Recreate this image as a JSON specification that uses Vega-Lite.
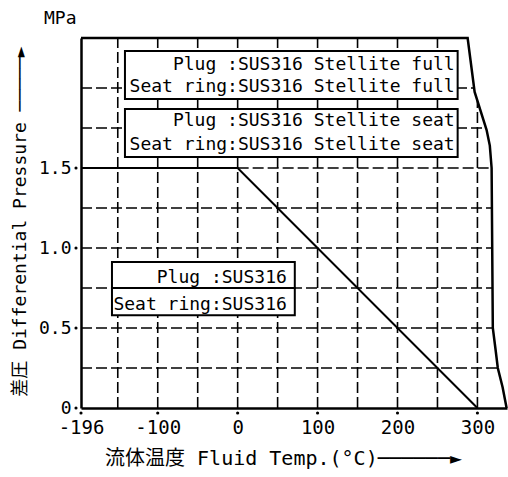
{
  "$schema": "https://vega.github.io/schema/vega-lite/v6.json",
  "width": 426,
  "height": 370,
  "autosize": {"type": "none"},
  "padding": {"left": 81, "top": 38, "right": 1, "bottom": 69},
  "background": "white",
  "config": {"view": {"stroke": null}, "font": "DejaVu Sans Mono"},
  "datasets": {
    "vgrid": [
      {"t": -150, "p": 0, "p1": 2.3125},
      {"t": -100, "p": 0, "p1": 2.3125},
      {"t": -50, "p": 0, "p1": 2.3125},
      {"t": 0, "p": 0, "p1": 2.3125},
      {"t": 50, "p": 0, "p1": 2.3125},
      {"t": 100, "p": 0, "p1": 2.3125},
      {"t": 150, "p": 0, "p1": 2.3125},
      {"t": 200, "p": 0, "p1": 2.3125},
      {"t": 250, "p": 0, "p1": 2.3125},
      {"t": 300, "p": 0, "p1": 1.92}
    ],
    "hgrid": [
      {"p": 0.25, "t": -196, "t1": 325.3},
      {"p": 0.5, "t": -196, "t1": 319.2},
      {"p": 0.75, "t": -196, "t1": 318.9},
      {"p": 1.0, "t": -196, "t1": 318.5},
      {"p": 1.25, "t": -196, "t1": 318.1},
      {"p": 1.5, "t": 0, "t1": 317.75},
      {"p": 1.75, "t": -196, "t1": 311.2},
      {"p": 2.0, "t": -196, "t1": 295.9}
    ],
    "rating": [
      {"t": -196, "p": 1.5},
      {"t": 0, "p": 1.5},
      {"t": 300, "p": 0}
    ],
    "frame": [
      {"i": 0, "t": -196, "p": 2.3125},
      {"i": 1, "t": 287.75, "p": 2.3125},
      {"i": 2, "t": 296.5, "p": 1.975},
      {"i": 3, "t": 311.5, "p": 1.7375},
      {"i": 4, "t": 315.5, "p": 1.64},
      {"i": 5, "t": 317.75, "p": 1.5},
      {"i": 6, "t": 318.5, "p": 1.0},
      {"i": 7, "t": 319.25, "p": 0.5},
      {"i": 8, "t": 322.75, "p": 0.3625},
      {"i": 9, "t": 325.5, "p": 0.25},
      {"i": 10, "t": 331.5, "p": 0.13},
      {"i": 11, "t": 336.5, "p": 0}
    ],
    "boxes": [
      {"t": -141, "t1": 275.25, "p": 1.931, "p1": 2.231},
      {"t": -141, "t1": 275.25, "p": 1.569, "p1": 1.869},
      {"t": -157.25, "t1": 71.5, "p": 0.75, "p1": 0.9125},
      {"t": -157.25, "t1": 71.5, "p": 0.58, "p1": 0.75}
    ],
    "notes": [
      {"t": 271.5, "p": 2.1125, "s": "Plug :SUS316 Stellite full"},
      {"t": 271.5, "p": 1.975, "s": "Seat ring:SUS316 Stellite full"},
      {"t": 271.5, "p": 1.7625, "s": "Plug :SUS316 Stellite seat"},
      {"t": 271.5, "p": 1.6125, "s": "Seat ring:SUS316 Stellite seat"},
      {"t": 61.5, "p": 0.78, "s": "Plug :SUS316"},
      {"t": 61.5, "p": 0.6125, "s": "Seat ring:SUS316"}
    ],
    "unit": [
      {"t": -196, "p": 2.3125, "s": "MPa"}
    ],
    "xdots": [
      {"t": -196, "p": 0}, {"t": -100, "p": 0}, {"t": 0, "p": 0},
      {"t": 100, "p": 0}, {"t": 200, "p": 0}, {"t": 300, "p": 0}
    ],
    "ydots": [
      {"t": -196, "p": 0}, {"t": -196, "p": 0.5}, {"t": -196, "p": 1.0}, {"t": -196, "p": 1.5}
    ]
  },
  "layer": [
    {
      "data": {"name": "vgrid"},
      "mark": {"type": "rule", "color": "black", "strokeWidth": 1.6, "strokeDash": [11, 4]},
      "encoding": {
        "x": {
          "field": "t", "type": "quantitative",
          "scale": {"domain": [-196, 337], "nice": false, "zero": false},
          "axis": {
            "values": [-196, -100, 0, 100, 200, 300],
            "labelExpr": "datum.value < 0 ? '-' + abs(datum.value) : '' + datum.value",
            "grid": false, "ticks": false,
            "domainWidth": 2.5, "domainColor": "black",
            "labelFont": "DejaVu Sans Mono", "labelFontSize": 19, "labelColor": "black",
            "labelPadding": 10, "labelFlush": false, "labelOverlap": false,
            "title": "流体温度 Fluid Temp.(°C)──────►",
            "titleFont": "DejaVu Sans Mono, Noto Sans CJK JP",
            "titleFontSize": 20, "titleFontWeight": "normal", "titleColor": "black",
            "titleX": 202, "titleY": 50, "titleAlign": "center", "titleBaseline": "middle"
          }
        },
        "y": {
          "field": "p", "type": "quantitative",
          "scale": {"domain": [0, 2.3125], "nice": false, "zero": false},
          "axis": {
            "values": [0, 0.5, 1, 1.5],
            "labelExpr": "datum.value == 0 ? '0' : format(datum.value, '.1f')",
            "grid": false, "ticks": false,
            "domainWidth": 2.5, "domainColor": "black",
            "labelFont": "DejaVu Sans Mono", "labelFontSize": 18, "labelColor": "black",
            "labelPadding": 10, "labelFlush": false, "labelOverlap": false,
            "title": "差圧 Differential Pressure ─────►",
            "titleFont": "DejaVu Sans Mono, Noto Sans CJK JP",
            "titleFontSize": 18, "titleFontWeight": "normal", "titleColor": "black",
            "titleX": -61, "titleY": 183, "titleAngle": 270, "titleAlign": "center", "titleBaseline": "middle"
          }
        },
        "y2": {"field": "p1"}
      }
    },
    {
      "data": {"name": "hgrid"},
      "mark": {"type": "rule", "color": "black", "strokeWidth": 1.6, "strokeDash": [11, 4]},
      "encoding": {
        "x": {"field": "t", "type": "quantitative"},
        "x2": {"field": "t1"},
        "y": {"field": "p", "type": "quantitative"}
      }
    },
    {
      "data": {"name": "rating"},
      "mark": {"type": "line", "color": "black", "strokeWidth": 2},
      "encoding": {
        "x": {"field": "t", "type": "quantitative"},
        "y": {"field": "p", "type": "quantitative"}
      }
    },
    {
      "data": {"name": "boxes"},
      "mark": {"type": "rect", "fill": "white", "stroke": "black", "strokeWidth": 2},
      "encoding": {
        "x": {"field": "t", "type": "quantitative"},
        "x2": {"field": "t1"},
        "y": {"field": "p", "type": "quantitative"},
        "y2": {"field": "p1"}
      }
    },
    {
      "data": {"name": "notes"},
      "mark": {"type": "text", "align": "right", "baseline": "alphabetic", "font": "DejaVu Sans Mono", "fontSize": 18, "color": "black"},
      "encoding": {
        "x": {"field": "t", "type": "quantitative"},
        "y": {"field": "p", "type": "quantitative"},
        "text": {"field": "s"}
      }
    },
    {
      "data": {"name": "unit"},
      "mark": {"type": "text", "align": "left", "baseline": "alphabetic", "font": "DejaVu Sans Mono", "fontSize": 18, "color": "black", "dx": -37, "dy": -14},
      "encoding": {
        "x": {"field": "t", "type": "quantitative"},
        "y": {"field": "p", "type": "quantitative"},
        "text": {"field": "s"}
      }
    },
    {
      "data": {"name": "frame"},
      "mark": {"type": "line", "color": "black", "strokeWidth": 2.5},
      "encoding": {
        "x": {"field": "t", "type": "quantitative"},
        "y": {"field": "p", "type": "quantitative"},
        "order": {"field": "i"}
      }
    },
    {
      "data": {"name": "xdots"},
      "mark": {"type": "point", "filled": true, "size": 10, "color": "black", "opacity": 1, "yOffset": 5},
      "encoding": {
        "x": {"field": "t", "type": "quantitative"},
        "y": {"field": "p", "type": "quantitative"}
      }
    },
    {
      "data": {"name": "ydots"},
      "mark": {"type": "point", "filled": true, "size": 10, "color": "black", "opacity": 1, "xOffset": -5},
      "encoding": {
        "x": {"field": "t", "type": "quantitative"},
        "y": {"field": "p", "type": "quantitative"}
      }
    }
  ]
}
